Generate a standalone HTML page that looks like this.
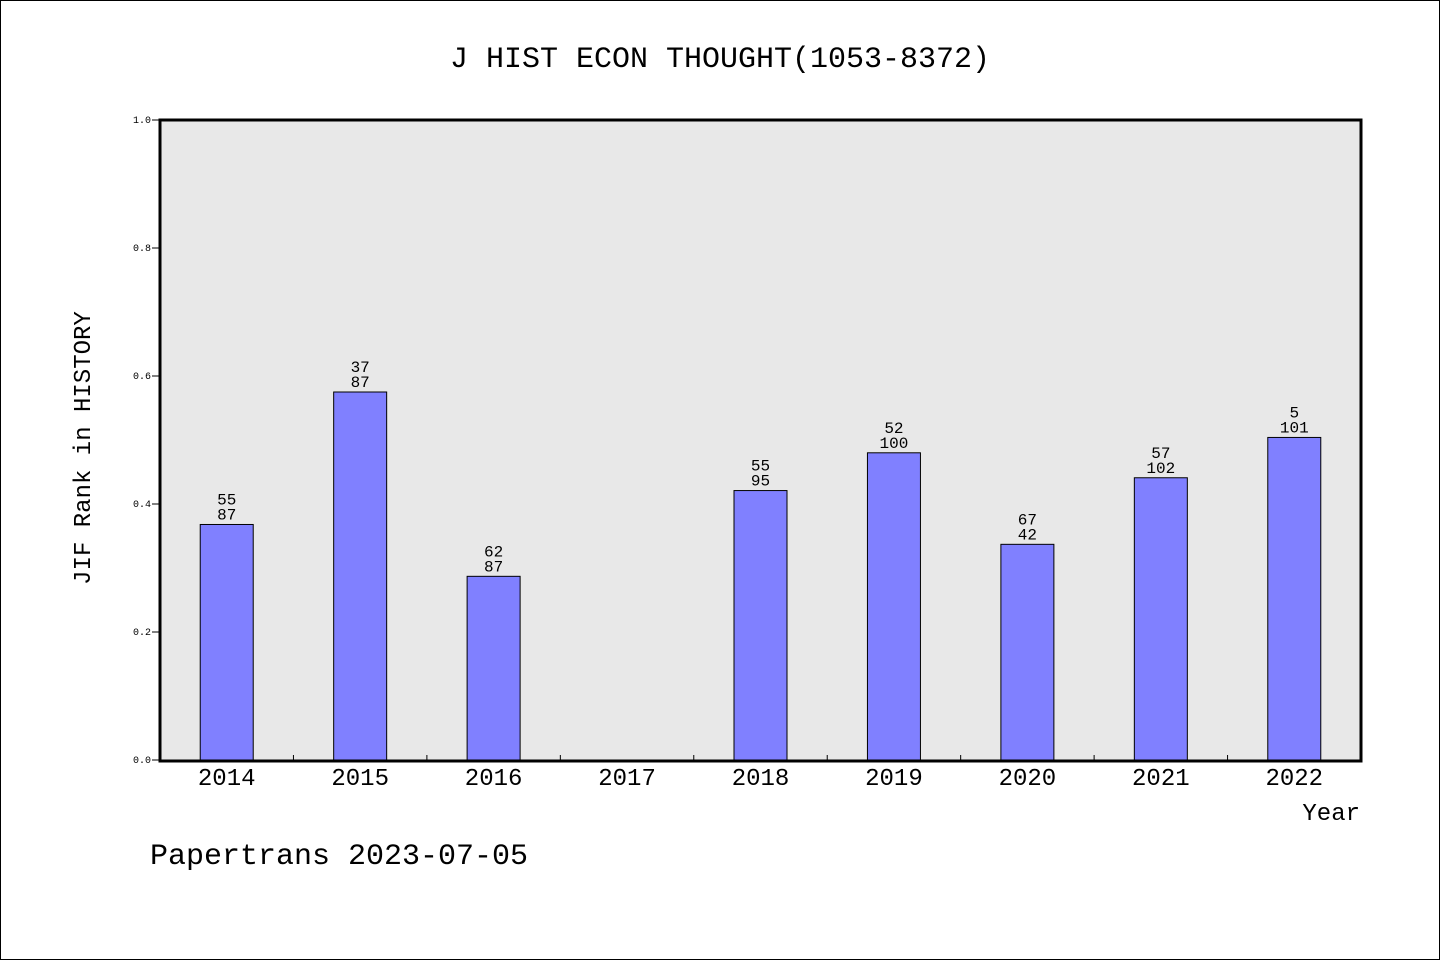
<!DOCTYPE html>
<html><head><meta charset="utf-8"><style>
html,body{margin:0;padding:0;background:#fff}
svg{display:block}
text{font-family:"Liberation Mono","WenQuanYi Zen Hei",monospace;fill:#000}
</style></head><body>
<svg id="chart" width="1440" height="960" xmlns="http://www.w3.org/2000/svg">
<rect x="0.5" y="0.5" width="1439" height="959" fill="#fff" stroke="#000"/>
<text x="720" y="67" font-size="30" text-anchor="middle">J HIST ECON THOUGHT(1053-8372)</text>
<rect x="160" y="120" width="1201" height="641" fill="#e8e8e8"/>
<g id="bars"></g>
<rect x="160" y="120" width="1201" height="641" fill="none" stroke="#000" stroke-width="3"/>
<g id="axes"></g>
<text transform="translate(90,448) rotate(-90)" font-size="24" text-anchor="middle">JIF Rank in HISTORY</text>
<text x="1360" y="820" font-size="24" text-anchor="end">Year</text>
<text x="150" y="864" font-size="30">Papertrans 2023-07-05</text>
</svg>
<script>
const categories = ["2014","2015","2016","2017","2018","2019","2020","2021","2022"];
const values = [0.368,0.575,0.287,null,0.421,0.480,0.337,0.441,0.504];
const rankTop = ["55","37","62","","55","52","67","57","5"];
const rankBottom = ["87","87","87","","95","100","42","102","101"];
const yTicks = [0,0.2,0.4,0.6,0.8,1.0];
const yTickLabels = ["0.0","0.2","0.4","0.6","0.8","1.0"];

const NS="http://www.w3.org/2000/svg";
const X0=160,X1=1361,Y0=760,Y1=120;
const step=(X1-X0)/categories.length;
const xc=i=>X0+step*(i+0.5);
const y=v=>Y0-(Y0-Y1)*v;
function mk(tag,attrs,parent,txt){const e=document.createElementNS(NS,tag);for(const k in attrs)e.setAttribute(k,attrs[k]);if(txt!==undefined)e.textContent=txt;parent.appendChild(e);return e;}
const bars=document.getElementById('bars'),axes=document.getElementById('axes');
const bw=53;
values.forEach((v,i)=>{
  if(v===null)return;
  const r=mk('rect',{x:xc(i)-bw/2,y:y(v),width:bw,height:Y0-y(v)+1,fill:'#8080ff',stroke:'#000','stroke-width':1},bars);
  
  
  const t1=mk('text',{x:xc(i),y:y(v)-20,'font-size':16,'text-anchor':'middle'},bars,rankTop[i]);
  
  
  const t2=mk('text',{x:xc(i),y:y(v)-5,'font-size':16,'text-anchor':'middle'},bars,rankBottom[i]);
  
  
});
yTicks.forEach((v,i)=>{
  const l=mk('line',{x1:152,x2:160,y1:y(v),y2:y(v),stroke:'#000'},axes);
  
  
  const t=mk('text',{x:151,y:y(v)+3,'font-size':10,'text-anchor':'end'},axes,yTickLabels[i]);
  
  
});
categories.forEach((c,i)=>{
  if(i>0){const l=mk('line',{x1:X0+step*i,x2:X0+step*i,y1:755,y2:761,stroke:'#000'},axes);
  
  }
  const t=mk('text',{x:xc(i),y:785,'font-size':24,'text-anchor':'middle'},axes,c);
  
  
});
</script>
</body></html>
